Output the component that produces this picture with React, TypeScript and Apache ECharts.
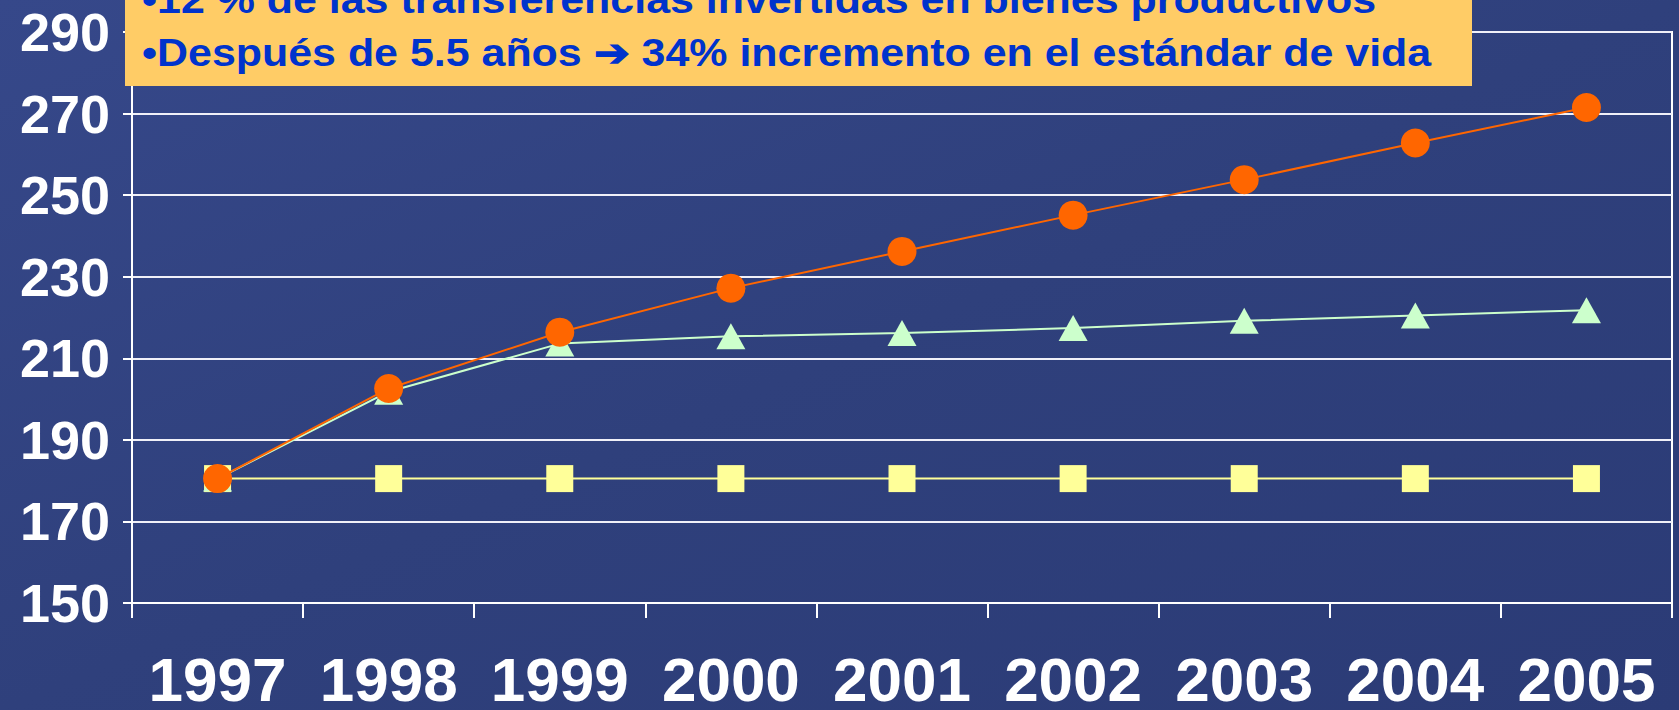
import React, { useEffect, useRef } from "react";
import * as echarts from "echarts";

const years = ["1997", "1998", "1999", "2000", "2001", "2002", "2003", "2004", "2005"];
const circleSeries = [180.5, 202.6, 216.4, 227.2, 236.2, 245.1, 253.8, 262.8, 271.5];
const triangleSeries = [180.5, 201.8, 213.6, 215.4, 216.2, 217.4, 219.2, 220.5, 221.8];
const squareSeries = [180.5, 180.5, 180.5, 180.5, 180.5, 180.5, 180.5, 180.5, 180.5];
const noteLines = [
  "•12 % de las transferencias invertidas en bienes productivos",
  "•Después de 5.5 años ➔ 34% incremento en el estándar de vida",
];

const FONT = "'Liberation Sans', Arial, sans-serif";

export default function App() {
  const ref = useRef<HTMLDivElement>(null);
  useEffect(() => {
    if (!ref.current) return;
    const chart = echarts.init(ref.current, undefined, { renderer: "svg" });
    chart.setOption({
      animation: false,
      backgroundColor: {
        type: "linear",
        x: 0,
        y: 0,
        x2: 1,
        y2: 1,
        colorStops: [
          { offset: 0, color: "#36488a" },
          { offset: 0.5, color: "#2f407c" },
          { offset: 1, color: "#2b3b76" },
        ],
      },
      grid: {
        left: 132,
        right: 7,
        top: 32,
        bottom: 94,
        show: true,
        borderColor: "#ffffff",
        borderWidth: 2,
      },
      xAxis: {
        type: "category",
        data: years,
        boundaryGap: true,
        axisLine: { lineStyle: { color: "#ffffff", width: 2 } },
        axisTick: { show: true, length: 15, lineStyle: { color: "#ffffff", width: 2 } },
        axisLabel: {
          interval: 0,
          hideOverlap: false,
          color: "#ffffff",
          fontFamily: FONT,
          fontWeight: "bold",
          fontSize: 62,
          margin: 45,
        },
        splitLine: { show: false },
      },
      yAxis: {
        type: "value",
        min: 150,
        max: 290,
        interval: 20,
        axisLine: { show: true, lineStyle: { color: "#ffffff", width: 2 } },
        axisTick: { show: true, length: 9, lineStyle: { color: "#ffffff", width: 2 } },
        axisLabel: {
          color: "#ffffff",
          fontFamily: FONT,
          fontWeight: "bold",
          fontSize: 54,
          margin: 22,
        },
        splitLine: { show: true, lineStyle: { color: "#f0f0f8", width: 2 } },
      },
      series: [
        {
          type: "line",
          data: squareSeries,
          symbol: "rect",
          symbolSize: 27,
          lineStyle: { color: "#ffff99", width: 2 },
          itemStyle: { color: "#ffff99" },
          z: 2,
        },
        {
          type: "line",
          data: triangleSeries,
          symbol: "triangle",
          symbolSize: [29, 26],
          lineStyle: { color: "#ccffcc", width: 2 },
          itemStyle: { color: "#ccffcc" },
          z: 3,
        },
        {
          type: "line",
          data: circleSeries,
          symbol: "circle",
          symbolSize: 29,
          lineStyle: { color: "#ff6600", width: 2 },
          itemStyle: { color: "#ff6600" },
          z: 4,
        },
      ],
      graphic: [
        {
          type: "rect",
          z: 100,
          shape: { x: 125, y: 0, width: 1347, height: 86 },
          style: { fill: "#ffcc66" },
        },
        {
          type: "text",
          z: 101,
          x: 142,
          y: 0,
          scaleX: 1.13,
          style: {
            text: noteLines[0],
            fill: "#0033cc",
            font: `bold 38px ${FONT}`,
            verticalAlign: "middle",
          },
        },
        {
          type: "text",
          z: 101,
          x: 142,
          y: 53,
          scaleX: 1.13,
          style: {
            text: noteLines[1],
            fill: "#0033cc",
            font: `bold 38px ${FONT}`,
            verticalAlign: "middle",
          },
        },
      ],
    });
    return () => chart.dispose();
  }, []);
  return (
    <div
      ref={ref}
      style={{ position: "absolute", left: 0, top: 0, width: 1679, height: 710 }}
    />
  );
}
